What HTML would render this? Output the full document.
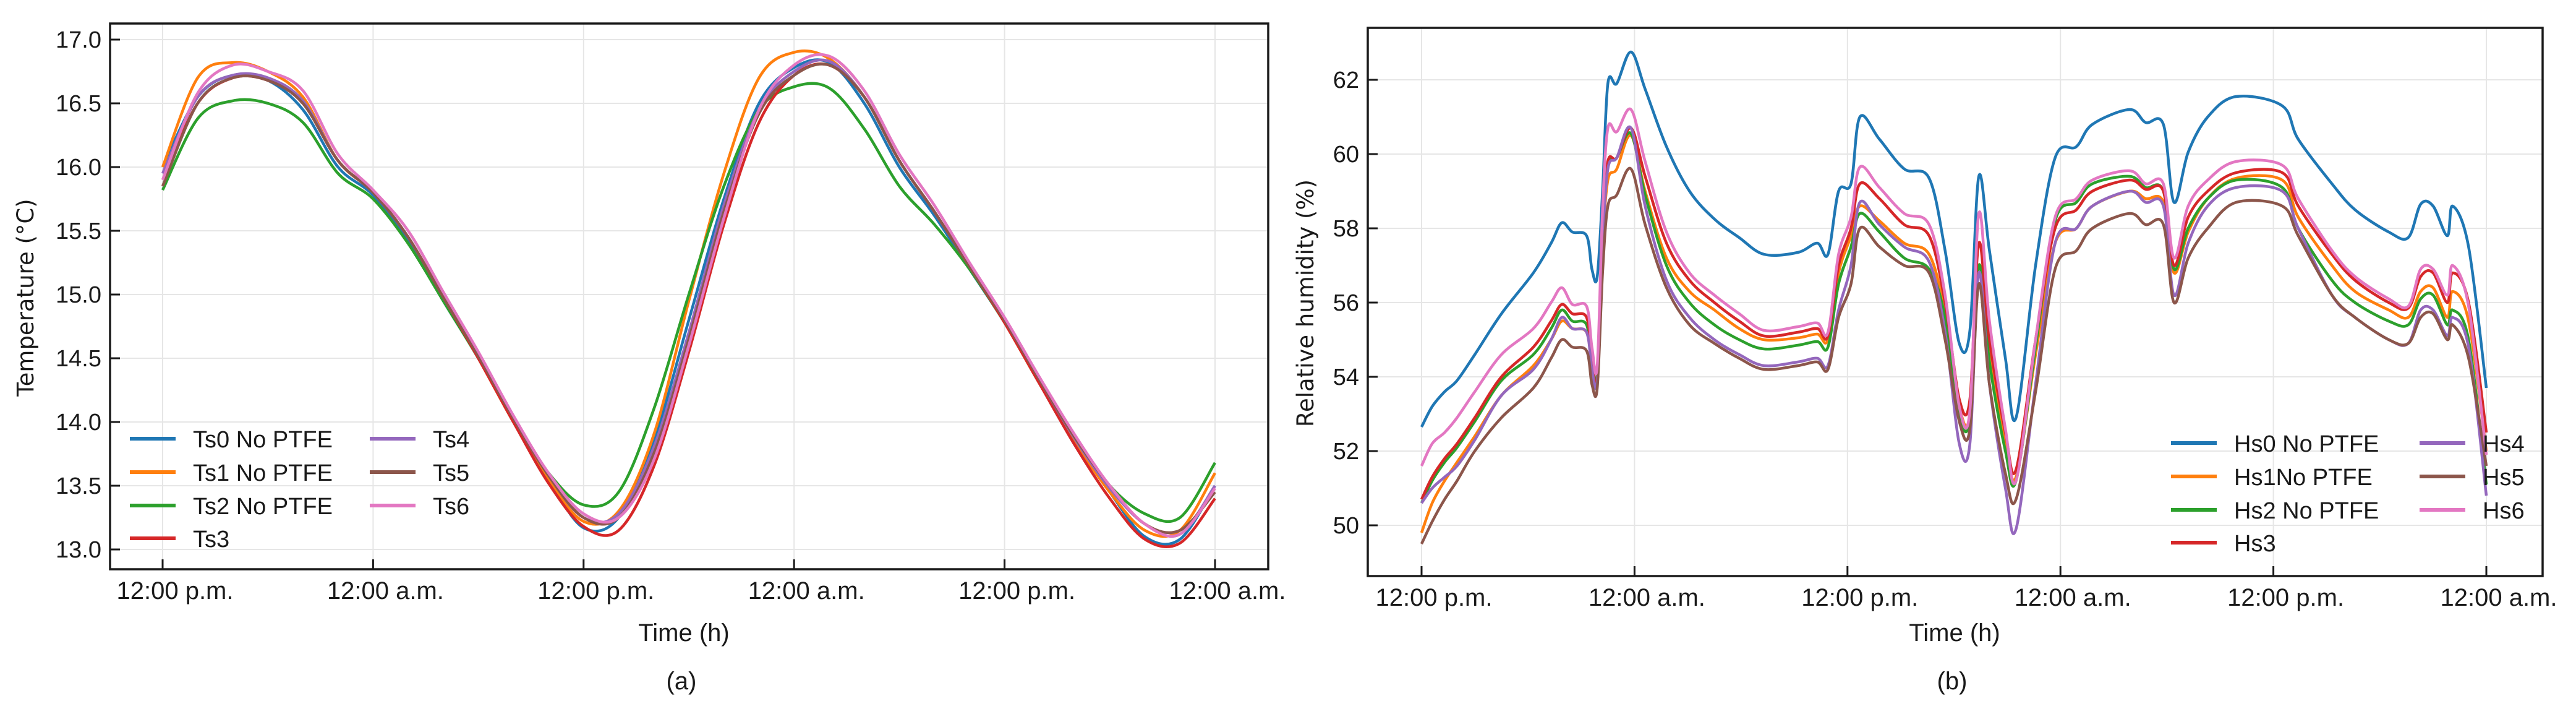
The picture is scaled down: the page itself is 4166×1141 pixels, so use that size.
<!DOCTYPE html>
<html><head><meta charset="utf-8"><style>
html,body{margin:0;padding:0;background:#fff;}
svg{display:block;font-family:"Liberation Sans",sans-serif;}
</style></head><body>
<svg id="fig" width="4166" height="1141" viewBox="0 0 4166 1141" xmlns="http://www.w3.org/2000/svg">
<g id="chartA"></g>
<g id="chartB"></g>
</svg>
<script>
const colors = ["#1f77b4","#ff7f0e","#2ca02c","#d62728","#9467bd","#8c564b","#e377c2"];
const tickHours = [0,12,24,36,48,60];
const tickLabels = ["12:00 p.m.","12:00 a.m.","12:00 p.m.","12:00 a.m.","12:00 p.m.","12:00 a.m."];

const tempHours = [0,2,4,6,8,10,12,14,16,18,20,22,24,26,28,30,32,34,36,38,40,42,44,46,48,50,52,54,56,58,60];
const tempNames = ["Ts0 No PTFE","Ts1 No PTFE","Ts2 No PTFE","Ts3","Ts4","Ts5","Ts6"];
const tempTicks = [13.0,13.5,14.0,14.5,15.0,15.5,16.0,16.5,17.0];
const Ts0 = [16.0,16.55,16.72,16.68,16.45,16.0,15.78,15.42,14.95,14.5,14.0,13.55,13.17,13.25,13.85,14.8,15.75,16.5,16.78,16.82,16.5,16.0,15.62,15.2,14.78,14.3,13.85,13.45,13.1,13.08,13.5];
const Ts1 = [16.0,16.7,16.82,16.75,16.55,16.05,15.8,15.45,14.98,14.5,14.0,13.55,13.22,13.3,13.9,14.95,15.95,16.7,16.9,16.85,16.55,16.05,15.65,15.22,14.78,14.3,13.85,13.45,13.15,13.15,13.6];
const Ts2 = [15.82,16.38,16.52,16.5,16.35,15.95,15.75,15.4,14.95,14.5,14.02,13.6,13.35,13.45,14.1,15.0,15.85,16.45,16.63,16.62,16.3,15.85,15.55,15.2,14.78,14.32,13.88,13.5,13.28,13.25,13.68];
const Ts3 = [15.9,16.5,16.7,16.68,16.5,16.05,15.8,15.45,14.98,14.5,14.0,13.52,13.18,13.15,13.65,14.55,15.55,16.35,16.72,16.8,16.55,16.05,15.65,15.22,14.78,14.3,13.82,13.4,13.08,13.05,13.4];
const Ts4 = [15.95,16.55,16.72,16.7,16.52,16.05,15.8,15.45,14.98,14.52,14.03,13.58,13.25,13.28,13.8,14.7,15.7,16.45,16.75,16.83,16.55,16.05,15.65,15.22,14.8,14.33,13.87,13.48,13.2,13.12,13.5];
const Ts5 = [15.85,16.5,16.7,16.68,16.5,16.05,15.8,15.45,14.98,14.52,14.03,13.58,13.25,13.25,13.75,14.65,15.65,16.42,16.72,16.8,16.55,16.05,15.65,15.22,14.8,14.33,13.88,13.5,13.2,13.15,13.45];
const Ts6 = [15.9,16.58,16.8,16.75,16.6,16.1,15.82,15.5,15.02,14.55,14.05,13.6,13.28,13.25,13.7,14.6,15.6,16.45,16.8,16.87,16.6,16.1,15.7,15.25,14.82,14.35,13.9,13.5,13.2,13.12,13.48];

const humHours = [0,0.6,1.3,2,3,4.5,6.3,7.3,7.9,8.5,9.3,9.6,9.9,10.2,10.5,11,11.8,12.6,13.8,15.1,16.5,17.9,19.3,21.2,22.3,22.9,23.5,24.2,24.7,25.8,27.2,28.6,29.5,30.3,30.9,31.4,32,32.9,33.5,34.6,35.7,36.9,37.8,39.9,40.8,41.8,42.4,43.2,44.3,45.9,48.5,49.4,51.3,52.6,54.5,55.6,56.3,57,57.8,58.1,59,60];
const humNames = ["Hs0 No PTFE","Hs1No PTFE","Hs2 No PTFE","Hs3","Hs4","Hs5","Hs6"];
const humTicks = [50,52,54,56,58,60,62];
const Hs0 = [52.65,53.2,53.6,53.9,54.6,55.7,56.8,57.6,58.15,57.9,57.8,56.9,56.7,59.0,61.9,61.9,62.75,61.75,60.2,59.0,58.25,57.75,57.3,57.35,57.6,57.3,59.0,59.2,61.0,60.4,59.6,59.35,57.4,54.9,55.25,59.4,57.4,54.5,52.9,57.0,59.9,60.2,60.8,61.2,60.85,60.8,58.7,60.05,61.0,61.55,61.3,60.4,59.2,58.5,57.9,57.75,58.65,58.6,57.8,58.6,57.5,53.7];
const Hs1 = [49.8,50.6,51.2,51.7,52.4,53.5,54.3,55.0,55.5,55.3,55.2,54.3,54.0,57.5,59.3,59.6,60.5,59.0,57.2,56.3,55.8,55.3,55.0,55.05,55.15,55.0,56.8,57.8,58.6,58.2,57.6,57.3,55.7,53.2,53.0,57.0,54.6,52.3,51.3,54.6,57.6,58.0,58.6,59.0,58.8,58.7,56.8,57.9,58.8,59.35,59.3,58.3,57.0,56.3,55.8,55.6,56.3,56.4,55.6,56.3,55.5,52.0];
const Hs2 = [50.6,51.2,51.7,52.1,52.8,53.9,54.6,55.3,55.8,55.5,55.4,54.3,54.1,57.8,59.7,59.9,60.55,58.9,57.0,56.0,55.4,55.0,54.75,54.85,54.95,54.8,56.5,57.5,58.4,57.9,57.2,56.9,55.6,53.0,52.9,57.0,54.4,52.0,51.2,54.8,58.2,58.7,59.2,59.4,59.1,59.0,56.9,58.0,58.8,59.3,59.1,58.0,56.6,56.0,55.5,55.4,56.1,56.2,55.4,55.8,55.0,51.1];
const Hs3 = [50.7,51.3,51.8,52.2,52.9,54.0,54.8,55.5,55.95,55.7,55.6,54.5,53.9,58.0,59.8,59.9,60.7,59.4,57.6,56.6,56.0,55.5,55.1,55.2,55.3,55.1,57.0,58.0,59.2,58.8,58.1,57.8,56.0,53.4,53.4,57.6,55.0,52.5,51.5,55.0,58.0,58.5,59.0,59.3,59.05,59.0,57.0,58.3,59.0,59.5,59.5,58.6,57.3,56.6,56.0,55.85,56.7,56.8,56.0,56.8,56.0,52.5];
const Hs4 = [50.6,51.0,51.3,51.6,52.3,53.5,54.2,55.0,55.6,55.3,55.2,54.2,53.9,57.5,59.6,59.9,60.7,58.6,56.6,55.6,55.0,54.6,54.3,54.4,54.5,54.3,55.8,57.0,58.7,58.1,57.5,57.1,55.2,52.2,52.2,56.8,53.8,51.0,49.9,53.8,57.6,58.0,58.6,59.0,58.7,58.6,56.2,57.6,58.6,59.1,59.0,58.0,56.2,55.6,55.0,54.9,55.8,55.8,55.1,55.6,54.8,50.8];
const Hs5 = [49.5,50.1,50.7,51.2,52.0,52.9,53.7,54.5,55.0,54.8,54.7,53.8,53.7,56.8,58.6,58.9,59.6,58.1,56.4,55.4,54.9,54.5,54.2,54.3,54.4,54.2,55.6,56.5,58.0,57.5,57.0,56.8,55.0,52.8,52.6,56.5,53.8,51.4,50.7,53.6,56.9,57.4,58.0,58.4,58.1,58.1,56.0,57.2,58.0,58.7,58.6,57.8,56.2,55.6,55.0,54.9,55.6,55.7,55.0,55.4,54.5,51.6];
const Hs6 = [51.6,52.2,52.5,52.9,53.6,54.6,55.3,56.0,56.4,55.95,55.9,54.8,54.3,58.5,60.7,60.6,61.2,59.8,57.9,56.8,56.2,55.7,55.25,55.35,55.45,55.2,57.3,58.3,59.65,59.1,58.4,58.1,56.2,53.2,53.1,58.4,55.5,52.6,51.2,55.0,58.3,58.8,59.3,59.55,59.2,59.2,57.2,58.6,59.3,59.8,59.7,58.8,57.4,56.7,56.1,55.9,56.9,56.9,56.2,57.0,55.9,51.9];

const NS = "http://www.w3.org/2000/svg";
function mk(parent, tag, attrs, text){
  const e = document.createElementNS(NS, tag);
  for (const k in attrs) e.setAttribute(k, attrs[k]);
  if (text !== undefined) e.textContent = text;
  parent.appendChild(e);
  return e;
}
function smoothPath(pts){
  let d = "M" + pts[0][0].toFixed(1) + "," + pts[0][1].toFixed(1);
  for (let i = 0; i < pts.length - 1; i++){
    const p0 = pts[Math.max(0,i-1)], p1 = pts[i], p2 = pts[i+1], p3 = pts[Math.min(pts.length-1,i+2)];
    const c1x = p1[0] + (p2[0]-p0[0])/6, c1y = p1[1] + (p2[1]-p0[1])/6;
    const c2x = p2[0] - (p3[0]-p1[0])/6, c2y = p2[1] - (p3[1]-p1[1])/6;
    d += " C" + c1x.toFixed(1)+","+c1y.toFixed(1)+" "+c2x.toFixed(1)+","+c2y.toFixed(1)+" "+p2[0].toFixed(1)+","+p2[1].toFixed(1);
  }
  return d;
}

function drawChart(cfg){
  const g = document.getElementById(cfg.id);
  const X = h => cfg.x0 + (h - 0) * (cfg.x60 - cfg.x0) / 60;
  const Y = v => cfg.yA + (v - cfg.vA) * (cfg.yB - cfg.yA) / (cfg.vB - cfg.vA);
  tickHours.forEach(h => {
    const l = mk(g, "line", {x1:X(h), x2:X(h), y1:cfg.top, y2:cfg.bottom, stroke:"#e6e6e6", "stroke-width":2});
    
    
  });
  cfg.yTicks.forEach(v => {
    const l = mk(g, "line", {x1:cfg.left, x2:cfg.right, y1:Y(v), y2:Y(v), stroke:"#e6e6e6", "stroke-width":2});
    
    
  });
  cfg.series.forEach((s, i) => {
    const pts = cfg.hours.map((h, j) => [X(h), Y(s[j])]);
    const p = mk(g, "path", {d: smoothPath(pts), fill:"none", stroke:colors[i], "stroke-width":4.5, "stroke-linejoin":"round"});
    
    
  });
  const frame = mk(g, "rect", {x:cfg.left, y:cfg.top, width:cfg.right-cfg.left, height:cfg.bottom-cfg.top, fill:"none", stroke:"#1a1a1a", "stroke-width":3.5});
  
  
  tickHours.forEach((h, i) => {
    const t = mk(g, "line", {x1:X(h), x2:X(h), y1:cfg.bottom, y2:cfg.bottom-16, stroke:"#1a1a1a", "stroke-width":3});
    
    
    const tx = mk(g, "text", {x:X(h)+20, y:cfg.bottom+48, "font-size":40, "text-anchor":"middle", fill:"#1a1a1a"}, tickLabels[i]);
    
    
  });
  cfg.yTicks.forEach(v => {
    const t = mk(g, "line", {x1:cfg.left, x2:cfg.left+16, y1:Y(v), y2:Y(v), stroke:"#1a1a1a", "stroke-width":3});
    
    
    const tx = mk(g, "text", {x:cfg.left-14, y:Y(v)+13, "font-size":38, "text-anchor":"end", fill:"#1a1a1a"}, cfg.fmt(v));
    
    
  });
  const yt = mk(g, "text", {x:0, y:0, "font-size":37, "font-family":"DejaVu Sans, sans-serif", "text-anchor":"middle", fill:"#1a1a1a", transform:"translate("+cfg.yTitleX+","+cfg.yTitleY+") rotate(-90)"}, cfg.yTitle);
  
  
  const xt = mk(g, "text", {x:cfg.xTitleX, y:1036, "font-size":40, "text-anchor":"middle", fill:"#1a1a1a"}, "Time (h)");
  
  
  const pl = mk(g, "text", {x:cfg.xTitleX-4, y:1114, "font-size":40, "text-anchor":"middle", fill:"#1a1a1a"}, cfg.panel);
  
  
  const lg = mk(g, "g", {});
  
  
  cfg.names.forEach((n, i) => {
    const col = i < 4 ? 0 : 1, row = i < 4 ? i : i - 4;
    const lx = cfg.legX[col], ly = cfg.legY[row];
    const e = mk(lg, "g", {});
    
    
    mk(e, "line", {x1:lx, x2:lx+74, y1:ly, y2:ly, stroke:colors[i], "stroke-width":6});
    mk(e, "text", {x:lx+102, y:ly+14, "font-size":38, fill:"#1a1a1a"}, n);
  });
}

drawChart({id:"chartA", left:178, right:2051, top:38, bottom:920, x0:263, x60:1965,
  yA:64, vA:17.0, yB:888, vB:13.0, yTicks:tempTicks, fmt:v=>v.toFixed(1),
  hours:tempHours, series:[Ts0,Ts1,Ts2,Ts3,Ts4,Ts5,Ts6], names:tempNames,
  yTitle:"Temperature (°C)", yTitleX:54, yTitleY:481, xTitleX:1106, panel:"(a)",
  legX:[210,598], legY:[709,763,817,870]});
drawChart({id:"chartB", left:2212, right:4112, top:45, bottom:931, x0:2299, x60:4021,
  yA:129, vA:62, yB:849, vB:50, yTicks:humTicks, fmt:v=>String(v),
  hours:humHours, series:[Hs0,Hs1,Hs2,Hs3,Hs4,Hs5,Hs6], names:humNames,
  yTitle:"Relative humidity (%)", yTitleX:2124, yTitleY:490, xTitleX:3161, panel:"(b)",
  legX:[3511,3913], legY:[716,770,824,877]});
</script>
</body></html>
